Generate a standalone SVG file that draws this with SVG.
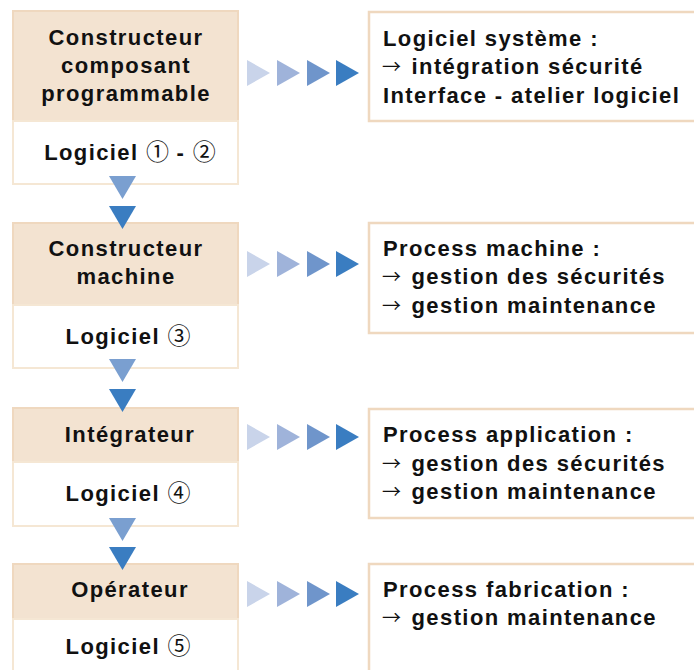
<svg xmlns="http://www.w3.org/2000/svg" width="694" height="670" viewBox="0 0 694 670">
  <style>
    .head { fill: #f3e3d1; stroke: #efd8bf; stroke-width: 2; }
    .body { fill: #ffffff; stroke: #f5e7d4; stroke-width: 2; }
    .note { fill: #ffffff; stroke: #efd8bf; stroke-width: 2.5; }
    text { font-family: "Liberation Sans", Arial, "DejaVu Sans", sans-serif; font-weight: bold; font-size: 22px; letter-spacing: 1.4px; fill: #111111; }
    .c { text-anchor: middle; }
    .arr { font-weight: normal; font-family: "Noto Sans CJK JP", "DejaVu Sans", sans-serif; font-size: 19px; letter-spacing: 3px; }
    .num { font-weight: normal; font-family: "Noto Sans CJK JP", "DejaVu Sans", sans-serif; font-size: 23px; letter-spacing: 0; }
  </style>
  <defs>
    <polygon id="tri-down" points="0,0 27,0 13.5,23"/>
    <polygon id="tri-right" points="0,0 23,13 0,26"/>
  </defs>

  <!-- left column: actors -->
  <g id="node-constructeur-composant">
    <rect class="head" x="13" y="11" width="225" height="110"/>
    <rect class="body" x="13" y="121" width="225" height="63"/>
    <text class="c" x="126" y="45">Constructeur</text>
    <text class="c" x="126" y="73">composant</text>
    <text class="c" x="126" y="101">programmable</text>
    <text class="c" x="130" y="160">Logiciel <tspan class="num">①</tspan> - <tspan class="num">②</tspan></text>
  </g>
  <g id="node-constructeur-machine">
    <rect class="head" x="13" y="223" width="225" height="82"/>
    <rect class="body" x="13" y="305" width="225" height="63"/>
    <text class="c" x="126" y="256">Constructeur</text>
    <text class="c" x="126" y="284">machine</text>
    <text class="c" x="128" y="344">Logiciel <tspan class="num">③</tspan></text>
  </g>
  <g id="node-integrateur">
    <rect class="head" x="13" y="408" width="225" height="54"/>
    <rect class="body" x="13" y="462" width="225" height="64"/>
    <text class="c" x="130" y="442">Intégrateur</text>
    <text class="c" x="128" y="501">Logiciel <tspan class="num">④</tspan></text>
  </g>
  <g id="node-operateur">
    <rect class="head" x="13" y="564" width="225" height="55"/>
    <rect class="body" x="13" y="619" width="225" height="70"/>
    <text class="c" x="130" y="597">Opérateur</text>
    <text class="c" x="128" y="654">Logiciel <tspan class="num">⑤</tspan></text>
  </g>

  <!-- right column: responsibilities -->
  <g id="node-logiciel-systeme">
    <rect class="note" x="369" y="12" width="340" height="109"/>
    <text x="383" y="46">Logiciel système :</text>
    <text x="382" y="74"><tspan class="arr">→</tspan> intégration sécurité</text>
    <text x="383" y="103">Interface - atelier logiciel</text>
  </g>
  <g id="node-process-machine">
    <rect class="note" x="369" y="223" width="340" height="110"/>
    <text x="383" y="256">Process machine :</text>
    <text x="382" y="284"><tspan class="arr">→</tspan> gestion des sécurités</text>
    <text x="382" y="313"><tspan class="arr">→</tspan> gestion maintenance</text>
  </g>
  <g id="node-process-application">
    <rect class="note" x="369" y="409" width="340" height="109"/>
    <text x="383" y="442">Process application :</text>
    <text x="382" y="471"><tspan class="arr">→</tspan> gestion des sécurités</text>
    <text x="382" y="499"><tspan class="arr">→</tspan> gestion maintenance</text>
  </g>
  <g id="node-process-fabrication">
    <rect class="note" x="369" y="564" width="340" height="130"/>
    <text x="383" y="597">Process fabrication :</text>
    <text x="382" y="625"><tspan class="arr">→</tspan> gestion maintenance</text>
  </g>

  <!-- connectors -->
  <g id="connectors">
    <!-- vertical flow between actors -->
    <use href="#tri-down" x="109" y="176" fill="#7a9fd0"/>
    <use href="#tri-down" x="109" y="206" fill="#3a7dc1"/>
    <use href="#tri-down" x="109" y="359" fill="#7a9fd0"/>
    <use href="#tri-down" x="109" y="389" fill="#3a7dc1"/>
    <use href="#tri-down" x="109" y="518" fill="#7a9fd0"/>
    <use href="#tri-down" x="109" y="547" fill="#3a7dc1"/>
    <!-- horizontal chevrons to responsibilities -->
    <g id="row1" transform="translate(0,60)">
      <use href="#tri-right" x="247" fill="#c9d4ea"/>
      <use href="#tri-right" x="277" fill="#9fb3da"/>
      <use href="#tri-right" x="307" fill="#6f95cb"/>
      <use href="#tri-right" x="336" fill="#3a7dc1"/>
    </g>
    <g id="row2" transform="translate(0,251)">
      <use href="#tri-right" x="247" fill="#c9d4ea"/>
      <use href="#tri-right" x="277" fill="#9fb3da"/>
      <use href="#tri-right" x="307" fill="#6f95cb"/>
      <use href="#tri-right" x="336" fill="#3a7dc1"/>
    </g>
    <g id="row3" transform="translate(0,424)">
      <use href="#tri-right" x="247" fill="#c9d4ea"/>
      <use href="#tri-right" x="277" fill="#9fb3da"/>
      <use href="#tri-right" x="307" fill="#6f95cb"/>
      <use href="#tri-right" x="336" fill="#3a7dc1"/>
    </g>
    <g id="row4" transform="translate(0,581)">
      <use href="#tri-right" x="247" fill="#c9d4ea"/>
      <use href="#tri-right" x="277" fill="#9fb3da"/>
      <use href="#tri-right" x="307" fill="#6f95cb"/>
      <use href="#tri-right" x="336" fill="#3a7dc1"/>
    </g>
  </g>
</svg>
